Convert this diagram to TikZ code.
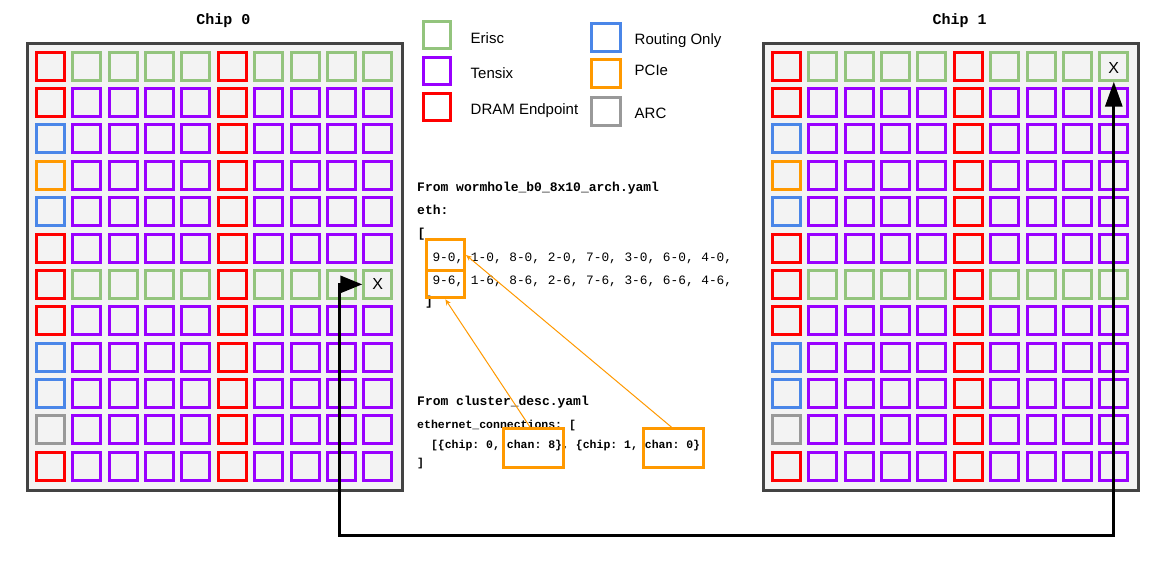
\documentclass[tikz,border=0pt]{standalone}
\usepackage{fontspec}
\setmainfont{Liberation Sans}
\setmonofont{Liberation Mono}
\usetikzlibrary{arrows.meta}
\definecolor{cgreen}{HTML}{93C47D}
\definecolor{cpurple}{HTML}{9900FF}
\definecolor{cred}{HTML}{FF0000}
\definecolor{cblue}{HTML}{4A86E8}
\definecolor{corange}{HTML}{FF9900}
\definecolor{cgray}{HTML}{999999}
\definecolor{cframe}{HTML}{434343}
\definecolor{cfill}{HTML}{F3F3F3}
\tikzset{
  cell/.style={draw, line width=3pt, fill=cfill, minimum size=28pt, inner sep=0pt},
  chipframe/.style={draw=cframe, line width=3pt, fill=cfill, minimum width=375pt, minimum height=447pt, inner sep=0pt},
  chiptitle/.style={anchor=base, inner sep=0pt, font=\ttfamily\bfseries\fontsize{15}{17}\selectfont},
  legbox/.style={draw, line width=3pt, fill=white, minimum width=27.5pt, minimum height=27pt, inner sep=0pt},
  legtext/.style={anchor=base west, inner sep=0pt, font=\fontsize{15}{17}\selectfont},
  codeb/.style={anchor=base west, inner sep=0pt, font=\ttfamily\bfseries\fontsize{13}{15}\selectfont},
  coder/.style={anchor=base west, inner sep=0pt, font=\ttfamily\fontsize{12.8}{15}\selectfont},
  codes/.style={anchor=base west, inner sep=0pt, font=\ttfamily\bfseries\fontsize{11.5}{14}\selectfont},
  obox/.style={draw=corange, line width=3pt, inner sep=0pt},
  oarrow/.style={draw=corange, line width=1pt, -{Stealth[length=6pt,width=5pt]}},
  xmark/.style={inner sep=0pt, font=\fontsize{16}{18}\selectfont},
  ethlink/.style={draw=black, line width=3pt, {Triangle[length=22pt,width=17pt]}-{Triangle[length=25pt,width=17pt]}},
}
\newcommand\mychip[2]{%
  \foreach \r/\cc in {0/cred,1/cred,2/cblue,3/corange,4/cblue,5/cred,6/cred,7/cred,8/cblue,9/cblue,10/cgray,11/cred}{
    \node[cell,draw=\cc] (#1-\r-0) at ({#2+50.2},{66.2+36.36*\r}) {};
    \node[cell,draw=cred] (#1-\r-5) at ({#2+50.2+5*36.4},{66.2+36.36*\r}) {};
  }
  \foreach \r in {0,6}{
    \foreach \c in {1,2,3,4,6,7,8,9}{
      \node[cell,draw=cgreen] (#1-\r-\c) at ({#2+50.2+\c*36.4},{66.2+36.36*\r}) {};
    }
  }
  \foreach \r in {1,2,3,4,5,7,8,9,10,11}{
    \foreach \c in {1,2,3,4,6,7,8,9}{
      \node[cell,draw=cpurple] (#1-\r-\c) at ({#2+50.2+\c*36.4},{66.2+36.36*\r}) {};
    }
  }
}
\begin{document}
\begin{tikzpicture}[x=1pt,y=-1pt]
\useasboundingbox[fill=white] (0,0) rectangle (1159,565);
% chips
\node[chipframe] (chip0) at (215,267) {};
\node[chipframe] (chip1) at (951,267) {};
\node[chiptitle] (t0) at (223.5,24) {Chip 0};
\node[chiptitle] (t1) at (959.5,24) {Chip 1};
\mychip{c0}{0}
\mychip{c1}{736}
\node[xmark] (x0) at (c0-6-9) {X};
\node[xmark] (x1) at ([yshift=-1.5pt]c1-0-9.center) {X};
% legend
\node[legbox,draw=cgreen] (lg) at (437,34.5) {};
\node[legbox,draw=cpurple] (lp) at (437,71) {};
\node[legbox,draw=cred] (lr) at (437,106.7) {};
\node[legbox,draw=cblue,minimum width=29pt,minimum height=28.5pt] (lb) at (606.3,37.3) {};
\node[legbox,draw=corange,minimum width=29pt,minimum height=28.5pt] (lo) at (606.3,73.7) {};
\node[legbox,draw=cgray,minimum width=29pt,minimum height=28.5pt] (la) at (606.3,111.3) {};
\node[legtext] (tg) at (470.5,43.3) {Erisc};
\node[legtext] (tp) at (470.5,78.3) {Tensix};
\node[legtext] (tr) at (470.5,114.3) {DRAM Endpoint};
\node[legtext] (tb) at (634.5,44) {Routing Only};
\node[legtext] (to) at (634.5,75.7) {PCIe};
\node[legtext] (ta) at (634.5,118.3) {ARC};
% code text
\node[codeb] (l1) at (417,191.3) {From wormhole\_b0\_8x10\_arch.yaml};
\node[codeb] (l2) at (417,214) {eth:};
\node[codeb] (l3) at (417.5,237.5) {[};
\node[coder] (l4) at (417,261.5) {\ \ 9-0, 1-0, 8-0, 2-0, 7-0, 3-0, 6-0, 4-0,};
\node[coder] (l5) at (417,284) {\ \ 9-6, 1-6, 8-6, 2-6, 7-6, 3-6, 6-6, 4-6,};
\node[codeb] (l6) at (417,305) {\ ]};
\node[codeb] (l7) at (417,405.3) {From cluster\_desc.yaml};
\node[codes] (l8) at (417,428) {ethernet\_connections: [};
\node[codes] (l9) at (417,448) {\ \ [\{chip: 0, chan: 8\}, \{chip: 1, chan: 0\}};
\node[codes] (l10) at (417,466.5) {]};
% orange highlight boxes
\node[obox,minimum width=38.3pt,minimum height=30.4pt] (bA) at (445.35,255) {};
\node[obox,minimum width=38.3pt,minimum height=27.6pt] (bB) at (445.35,284) {};
\node[obox,minimum width=59.7pt,minimum height=38.4pt] (bC) at (533.65,448) {};
\node[obox,minimum width=59.7pt,minimum height=38.4pt] (bD) at (673.65,448) {};
\draw[oarrow] ([xshift=-3.5pt]bC.north) -- (bB.south);
\draw[oarrow] ([xshift=-2pt]bD.north) -- (bA.east);
% ethernet link
\coordinate (bl) at (339.5,535);
\draw[ethlink] (c0-6-9.west) -| (bl) -| (c1-0-9.south);
\end{tikzpicture}
\end{document}
